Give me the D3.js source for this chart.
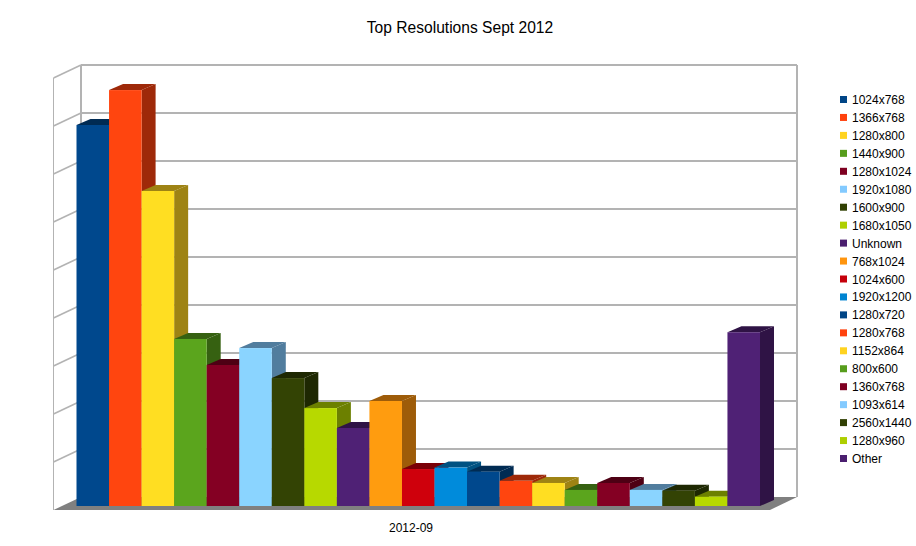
<!DOCTYPE html>
<html><head><meta charset="utf-8">
<style>html,body{margin:0;padding:0;background:#fff}svg{display:block}text{font-family:"Liberation Sans",Arial,sans-serif;fill:#000}</style>
<script src="https://cdn.jsdelivr.net/npm/d3@7/dist/d3.min.js"></script>
</head><body><svg id="c" width="916" height="546"></svg>
<script>
const titleText = "Top Resolutions Sept 2012";
const categoryLabel = "2012-09";
const seriesNames = ["1024x768","1366x768","1280x800","1440x900","1280x1024","1920x1080","1600x900","1680x1050","Unknown","768x1024","1024x600","1920x1200","1280x720","1280x768","1152x864","800x600","1360x768","1093x614","2560x1440","1280x960","Other"];
const seriesValues = [15.875,17.33,13.125,6.96,5.875,6.58,5.33,4.08,3.25,4.375,1.54,1.6,1.43,1.05,0.96,0.67,0.96,0.67,0.64,0.39,7.24];
const palette = ["#004586","#ff420e","#ffd320","#579d1c","#7e0021","#83caff","#314004","#aecf00","#4b1f6f","#ff950e","#c5000b","#0084d1"];
const gridValues = [0,2,4,6,8,10,12,14,16,18];

const svg = d3.select("#c");
const x = d3.scaleBand().domain(seriesNames).range([76.5,760]).paddingInner(0).paddingOuter(0);
const y = d3.scaleLinear().domain([0,18]).range([506,74]);
const color = d3.scaleOrdinal().domain(seriesNames).range(palette.concat(palette));
const depthX = 14, depthY = 6;
const wallLeft = 53.5, wallBack = 81, wallRight = 797, backShift = -9, frontShift = 4;
const wallColor = "#b3b3b3";

svg.append("text").attr("x",460).attr("y",33).attr("text-anchor","middle").attr("font-size",15.6).text(titleText);

// floor
svg.append("polygon").attr("fill","#808080")
  .attr("points",[[wallLeft,y(0)+frontShift],[wallBack,y(0)+backShift],[wallRight,y(0)+backShift],[770,y(0)+frontShift]].join(" "));

// walls
svg.append("g").selectAll("line").data(gridValues.slice(1)).join("line")
  .attr("x1",wallBack).attr("x2",wallRight).attr("y1",d=>y(d)+backShift).attr("y2",d=>y(d)+backShift)
  .attr("stroke",wallColor).attr("stroke-width",2);
svg.append("g").selectAll("line").data(gridValues.slice(1)).join("line")
  .attr("x1",wallLeft).attr("x2",wallBack).attr("y1",d=>y(d)+frontShift).attr("y2",d=>y(d)+backShift)
  .attr("stroke",wallColor).attr("stroke-width",1.6);
svg.append("line").attr("x1",wallBack).attr("x2",wallBack).attr("y1",y(18)+backShift).attr("y2",y(0)+backShift).attr("stroke",wallColor).attr("stroke-width",2);
svg.append("line").attr("x1",wallRight).attr("x2",wallRight).attr("y1",y(18)+backShift).attr("y2",y(0)+backShift).attr("stroke",wallColor).attr("stroke-width",2);
svg.append("line").attr("x1",wallLeft).attr("x2",wallLeft).attr("y1",y(18)+frontShift).attr("y2",y(0)+frontShift).attr("stroke",wallColor).attr("stroke-width",1);

// bars
const shade = (c,f) => { const r = d3.rgb(c); return d3.rgb(Math.min(255,r.r*f),Math.min(255,r.g*f),Math.min(255,r.b*f)).formatHex(); };
const bars = svg.append("g").selectAll("g").data(seriesNames.map((n,i)=>({n,v:seriesValues[i]}))).join("g");
bars.append("polygon").attr("fill",d=>shade(color(d.n),0.62)).attr("points",d=>{
  const r=x(d.n)+x.bandwidth(), t=y(d.v), b=y(0);
  return [[r,t],[r+depthX,t-depthY],[r+depthX,b-depthY],[r,b]].join(" ");
});
bars.append("polygon").attr("fill",d=>shade(color(d.n),0.62)).attr("points",d=>{
  const l=x(d.n), r=l+x.bandwidth(), t=y(d.v);
  return [[l,t],[l+depthX,t-depthY],[r+depthX,t-depthY],[r,t]].join(" ");
});
bars.append("rect").attr("fill",d=>shade(color(d.n),1.05)).attr("x",d=>x(d.n)).attr("width",x.bandwidth()).attr("y",d=>y(d.v)).attr("height",d=>y(0)-y(d.v));

// category label
svg.append("text").attr("x",411).attr("y",532).attr("text-anchor","middle").attr("font-size",12).text(categoryLabel);

// legend
const legY = d3.scalePoint().domain(seriesNames).range([99.5,458.5]);
const leg = svg.append("g").selectAll("g").data(seriesNames).join("g");
leg.append("rect").attr("x",840).attr("y",d=>legY(d)-3.5).attr("width",7).attr("height",7).attr("fill",d=>color(d));
leg.append("text").attr("x",852).attr("y",d=>legY(d)+4.5).attr("font-size",12).text(d=>d);
</script></body></html>
